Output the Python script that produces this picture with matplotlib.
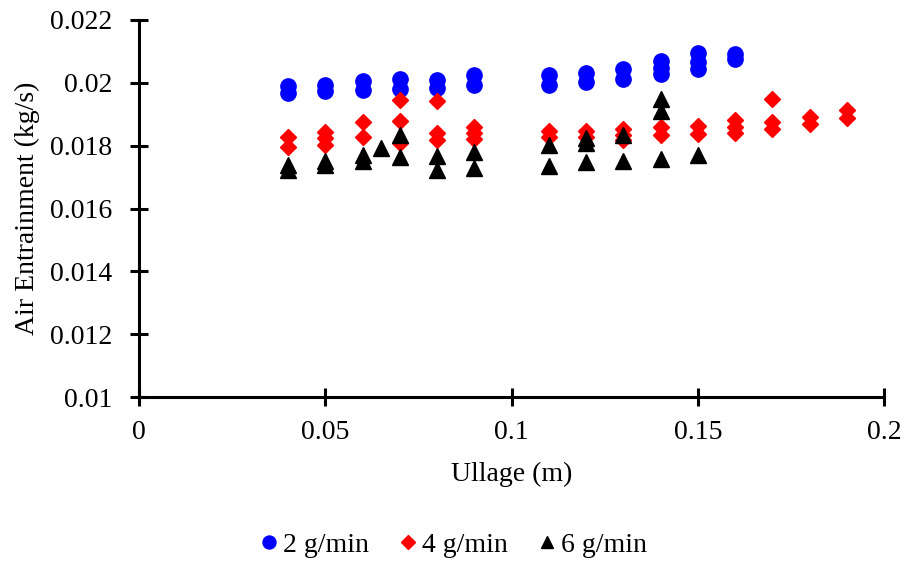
import numpy as np
import matplotlib
matplotlib.use("Agg")
from matplotlib import pyplot as plt

# air entrainment measurements per flow rate: ullage (m) vs entrainment (kg/s)
ullage_2 = [0.04, 0.04, 0.05, 0.05, 0.06, 0.06, 0.07, 0.07, 0.08, 0.08,
            0.09, 0.09, 0.11, 0.11, 0.12, 0.12, 0.13, 0.13,
            0.14, 0.14, 0.14, 0.15, 0.15, 0.15, 0.16, 0.16]
air_2 = [0.0199, 0.01968, 0.01993, 0.01974, 0.02006, 0.01977, 0.02012, 0.0198, 0.0201, 0.01983,
         0.02025, 0.01993, 0.02025, 0.01993, 0.02031, 0.02003, 0.02044, 0.02012,
         0.0207, 0.02047, 0.02028, 0.02095, 0.02066, 0.02044, 0.02092, 0.02076]

ullage_4 = [0.04, 0.04, 0.05, 0.05, 0.05, 0.06, 0.06, 0.07, 0.07, 0.07,
            0.08, 0.08, 0.08, 0.09, 0.09, 0.09, 0.11, 0.11, 0.12, 0.12,
            0.13, 0.13, 0.13, 0.14, 0.14, 0.15, 0.15, 0.16, 0.16, 0.16,
            0.17, 0.17, 0.17, 0.18, 0.18, 0.19, 0.19]
air_4 = [0.01828, 0.01796, 0.01844, 0.01824, 0.01802, 0.01875, 0.01828, 0.01945, 0.01878, 0.01808,
         0.01942, 0.0184, 0.01818, 0.01859, 0.0184, 0.01821, 0.01847, 0.01828, 0.01847, 0.01828,
         0.01853, 0.01834, 0.01818, 0.01859, 0.01834, 0.01863, 0.01837, 0.01882, 0.01859, 0.0184,
         0.01949, 0.01875, 0.01853, 0.01891, 0.01869, 0.01914, 0.01888]

ullage_6 = [0.04, 0.04, 0.05, 0.05, 0.06, 0.06, 0.065, 0.07, 0.07, 0.08, 0.08,
            0.09, 0.09, 0.11, 0.11, 0.12, 0.12, 0.12, 0.13, 0.13,
            0.14, 0.14, 0.14, 0.15]
air_6 = [0.01738, 0.01723, 0.01751, 0.01738, 0.0177, 0.01751, 0.01793, 0.01834, 0.01764, 0.01767, 0.01723,
         0.0178, 0.01729, 0.01802, 0.01735, 0.01824, 0.01808, 0.01748, 0.01834, 0.01751,
         0.01949, 0.0191, 0.01758, 0.0177]

x_ticks = [0, 0.05, 0.1, 0.15, 0.2]
x_labels = ["0", "0.05", "0.1", "0.15", "0.2"]
y_ticks = [0.01, 0.012, 0.014, 0.016, 0.018, 0.02, 0.022]
y_labels = ["0.01", "0.012", "0.014", "0.016", "0.018", "0.02", "0.022"]

plt.rcParams["font.family"] = ["Liberation Serif", "DejaVu Serif"]
plt.rcParams["font.size"] = 20

fig = plt.figure(figsize=(9.05, 5.63), dpi=100)
ax = fig.add_axes([0.1536, 0.2948, 0.8234, 0.6697])

ax.plot(ullage_2, air_2, "o", color="#0000ff", markersize=11, label="2 g/min")
ax.plot(ullage_4, air_4, "D", color="#ff0000", markersize=8, label="4 g/min")
ax.plot(ullage_6, air_6, "^", color="black", markersize=11, label="6 g/min")

ax.set_xlim(0, 0.2)
ax.set_ylim(0.01, 0.022)
ax.set_xticks(x_ticks, x_labels)
ax.set_yticks(y_ticks, y_labels)

for side in ("top", "right"):
    ax.spines[side].set_visible(False)
for side in ("left", "bottom"):
    ax.spines[side].set_linewidth(2.2)
ax.tick_params(direction="inout", length=13, width=2.2, colors="black", labelsize=20)
ax.tick_params(axis="x", pad=10)
ax.tick_params(axis="y", pad=13)

ax.set_xlabel("Ullage (m)", fontsize=20, labelpad=12)
ax.set_ylabel("Air Entrainment (kg/s)", fontsize=20, labelpad=7)

fig.legend(loc="center", bbox_to_anchor=(0.5, 1 - 545 / 563), ncol=3, frameon=False,
           fontsize=20, handletextpad=0.1, columnspacing=1.0, markerscale=0.85,
           handlelength=0.8)

fig.savefig("out.png", dpi=100)
